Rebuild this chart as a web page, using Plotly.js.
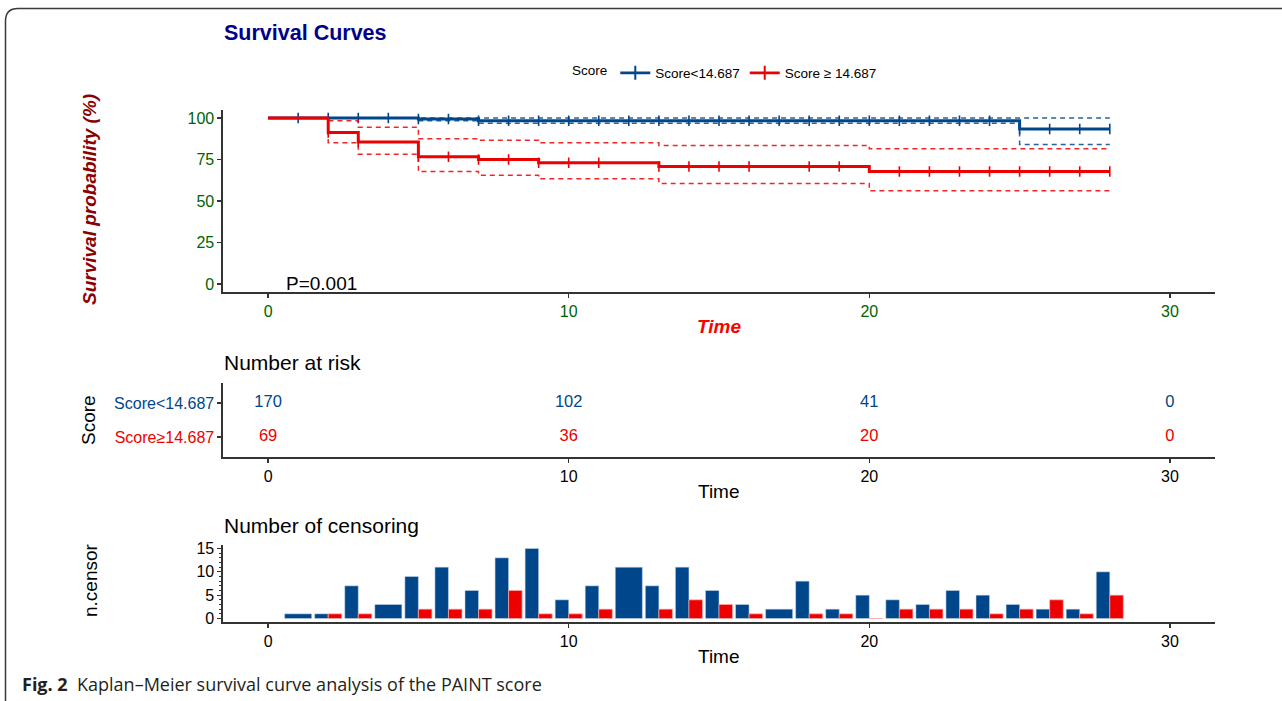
<!DOCTYPE html>
<html>
<head>
<meta charset="utf-8">
<script src="https://cdn.plot.ly/plotly-3.0.1.min.js"></script>
<style>
html,body{margin:0;padding:0;background:#fff;}
#chart{width:1282px;height:701px;}
</style>
</head>
<body>
<div id="chart"></div>
<script>
// ---------------- DATA ----------------
const groupNames = ["Score<14.687", "Score\u226514.687"];
const legendNames = ["Score<14.687", "Score \u2265 14.687"];

// Kaplan-Meier step curves (time, survival %, CI)
const blueTime  = [0, 5, 7, 25, 28];
const blueSurv  = [100, 99.4, 98.4, 93.3, 93.3];
const blueUpper = [100, 100, 100, 100, 100];
const blueLower = [100, 98.3, 96.8, 84.1, 84.1];

const redTime  = [0, 2, 3, 5, 7, 9, 13, 20, 28];
const redSurv  = [100, 91.3, 85.6, 76.6, 75.0, 73.1, 70.8, 67.7, 67.7];
const redUpper = [100, 98.4, 94.4, 87.5, 86.6, 85.1, 83.5, 81.5, 81.5];
const redLower = [100, 85.1, 78.1, 67.7, 65.5, 63.4, 60.6, 56.2, 56.2];

// Number of censoring per time point (null = no row for this group)
const censorTime = [1,2,3,4,5,6,7,8,9,10,11,12,13,14,15,16,17,18,19,20,21,22,23,24,25,26,27,28];
const blueCensor = [1,1,7,3,9,11,6,13,15,4,7,11,7,11,6,3,2,8,2,5,4,3,6,5,3,2,2,10];
const redCensor  = [null,1,1,null,2,2,2,6,1,1,2,null,2,4,3,1,null,1,1,0,2,2,2,1,2,4,1,5];

// Number at risk
const riskTime = [0, 10, 20, 30];
const blueRisk = [170, 102, 41, 0];
const redRisk  = [69, 36, 20, 0];

// Tick labels
const timeTicks = [0, 10, 20, 30];
const survTicks = [0, 25, 50, 75, 100];
const censorTicks = [0, 5, 10, 15];

// ---------------- STYLE ----------------
const BLUE = "#00468B", RED = "#ED0000";
const AX = "#333333";
const FONT = "Liberation Sans, Arial, sans-serif";
const W = 1282, H = 701;
const px = v => v / W;
const py = v => 1 - v / H;

function stepAt(times, vals, t) {
  let v = vals[0];
  for (let i = 0; i < times.length; i++) if (times[i] <= t) v = vals[i];
  return v;
}
function censorMarks(times, vals, counts) {
  const xs = [], ys = [];
  censorTime.forEach((t, i) => {
    if (counts[i] != null && counts[i] > 0) { xs.push(t); ys.push(stepAt(times, vals, t)); }
  });
  return {xs, ys};
}

const traces = [];
function addGroup(time, surv, up, lo, counts, color) {
  traces.push({x: time, y: up, mode: "lines", line: {shape: "hv", color: color, width: 1.5, dash: "5px,4px"}, opacity: 0.85, showlegend: false, hoverinfo: "skip", xaxis: "x", yaxis: "y"});
  traces.push({x: time, y: lo, mode: "lines", line: {shape: "hv", color: color, width: 1.5, dash: "5px,4px"}, opacity: 0.85, showlegend: false, hoverinfo: "skip", xaxis: "x", yaxis: "y"});
  traces.push({x: time, y: surv, mode: "lines", line: {shape: "hv", color: color, width: 3}, showlegend: false, xaxis: "x", yaxis: "y"});
  const cm = censorMarks(time, surv, counts);
  traces.push({x: cm.xs, y: cm.ys, mode: "markers", marker: {symbol: "line-ns-open", size: 7.5, color: color, line: {color: color, width: 1.6}}, showlegend: false, xaxis: "x", yaxis: "y"});
}
addGroup(blueTime, blueSurv, blueUpper, blueLower, blueCensor, BLUE);
addGroup(redTime, redSurv, redUpper, redLower, redCensor, RED);

// legend entries
[[legendNames[0], BLUE], [legendNames[1], RED]].forEach(([n, c]) => {
  traces.push({x: [null], y: [null], name: n, mode: "lines+markers", line: {color: c, width: 2.8},
    marker: {symbol: "line-ns-open", size: 10, color: c, line: {color: c, width: 2}}, xaxis: "x", yaxis: "y"});
});

// risk table
traces.push({x: riskTime, y: riskTime.map(() => 2), mode: "text", text: blueRisk.map(String),
  textfont: {family: FONT, size: 16.5, color: BLUE}, showlegend: false, xaxis: "x2", yaxis: "y2", cliponaxis: false});
traces.push({x: riskTime, y: riskTime.map(() => 1), mode: "text", text: redRisk.map(String),
  textfont: {family: FONT, size: 16.5, color: RED}, showlegend: false, xaxis: "x2", yaxis: "y2", cliponaxis: false});

// censoring bars (dodged like ggplot)
function barGeom(own, other, right) {
  const w = [], o = [];
  own.forEach((v, i) => {
    const both = v != null && other[i] != null;
    w.push(both ? 0.45 : 0.9);
    o.push(both && right ? 0 : -0.45);
  });
  return {w, o};
}
const bg = barGeom(blueCensor, redCensor, false);
const rg = barGeom(redCensor, blueCensor, true);
traces.push({type: "bar", x: censorTime, y: blueCensor, width: bg.w, offset: bg.o,
  marker: {color: BLUE, line: {color: "rgba(200,215,235,0.9)", width: 0.6}}, showlegend: false, xaxis: "x3", yaxis: "y3"});
traces.push({type: "bar", x: censorTime, y: redCensor, width: rg.w, offset: rg.o,
  marker: {color: RED, line: {color: "rgba(250,170,170,0.9)", width: 0.8}}, showlegend: false, xaxis: "x3", yaxis: "y3"});

// ---------------- LAYOUT ----------------
const xDom = [px(223), px(1215)];
const baseX = {
  domain: xDom, range: [-1.5, 31.5], tickvals: timeTicks, ticks: "outside", ticklen: 4, tickwidth: 1.2,
  tickcolor: AX, showline: true, linecolor: AX, linewidth: 1.6, showgrid: false, zeroline: false,
  tickfont: {family: FONT, size: 16, color: "#000"}, fixedrange: true
};
const baseY = {
  ticks: "outside", ticklen: 4, tickwidth: 1.2, tickcolor: AX, showline: true, linecolor: AX, linewidth: 1.6,
  showgrid: false, zeroline: false, tickfont: {family: FONT, size: 16, color: "#000"}, fixedrange: true
};

function ann(text, x, y, opts) {
  return Object.assign({text: text, x: px(x), y: py(y), xref: "paper", yref: "paper", showarrow: false,
    xanchor: "center", yanchor: "middle", font: {family: FONT, size: 19, color: "#000"}}, opts || {});
}

const annotations = [
  ann("<b>Survival Curves</b>", 222, 33, {xanchor: "left", font: {family: FONT, size: 21.5, color: "#00008B"}}),
  ann("<b><i>Survival probability (%)</i></b>", 90, 200, {textangle: -90, font: {family: FONT, size: 19, color: "#8B0000"}}),
  ann("<b><i>Time</i></b>", 719, 326, {font: {family: FONT, size: 19, color: "#FF0000"}}),
  ann("P=0.001", 284, 284, {xanchor: "left", font: {family: FONT, size: 19, color: "#000"}}),
  ann("Number at risk", 222, 362, {xanchor: "left", font: {family: FONT, size: 21, color: "#000"}}),
  ann("Score", 88, 420, {textangle: -90}),
  ann("Time", 719, 491),
  ann("Number of censoring", 222, 525, {xanchor: "left", font: {family: FONT, size: 21, color: "#000"}}),
  ann("n.censor", 90, 580, {textangle: -90}),
  ann("Time", 719, 656),
  ann("<b>Fig. 2</b>\u00a0\u00a0Kaplan\u2013Meier survival curve analysis of the PAINT score", 20, 684,
      {xanchor: "left", font: {family: "Open Sans, Noto Sans, sans-serif", size: 18, color: "#231F20"}})
];

// rounded frame
const frame = `M ${px(5.5)},${py(701)} L ${px(5.5)},${py(21)} Q ${px(5.5)},${py(8.5)} ${px(18)},${py(8.5)} L ${px(1282)},${py(8.5)}`;

const layout = {
  width: W, height: H, margin: {l: 0, r: 0, t: 0, b: 0},
  paper_bgcolor: "#fff", plot_bgcolor: "#fff",
  font: {family: FONT, color: "#000"},
  barmode: "overlay",
  showlegend: true,
  legend: {orientation: "h", x: px(570), xanchor: "left", y: py(73), yanchor: "middle",
    title: {text: "Score", side: "left", font: {family: FONT, size: 13.5, color: "#000"}},
    font: {family: FONT, size: 13.5, color: "#000"}, bgcolor: "rgba(0,0,0,0)", itemwidth: 30, tracegroupgap: 0},
  xaxis: Object.assign({}, baseX, {anchor: "y", tickfont: {family: FONT, size: 16, color: "#006400"}}),
  yaxis: Object.assign({}, baseY, {anchor: "x", domain: [py(292.3), py(109.7)], range: [-5, 105], tickvals: survTicks,
    tickfont: {family: FONT, size: 16, color: "#006400"}}),
  xaxis2: Object.assign({}, baseX, {anchor: "y2"}),
  yaxis2: Object.assign({}, baseY, {anchor: "x2", domain: [py(457.4), py(382.6)], range: [0.4, 2.6], tickvals: [1, 2],
    ticktext: [`<span style="color:${RED}">${groupNames[1]}</span>`, `<span style="color:${BLUE}">${groupNames[0].replace("<", "&lt;")}</span>`]}),
  xaxis3: Object.assign({}, baseX, {anchor: "y3"}),
  yaxis3: Object.assign({}, baseY, {anchor: "x3", domain: [py(622), py(545)], range: [-0.75, 15.75], tickvals: censorTicks,
    minor: {dtick: 1, ticks: "outside", ticklen: 2.5, tickcolor: AX, tickwidth: 1}}),
  annotations: annotations,
  shapes: [{type: "path", xref: "paper", yref: "paper", path: frame, line: {color: "#3a3a3a", width: 1.5}}]
};

Plotly.newPlot("chart", traces, layout, {displayModeBar: false, staticPlot: true});
</script>
</body>
</html>
